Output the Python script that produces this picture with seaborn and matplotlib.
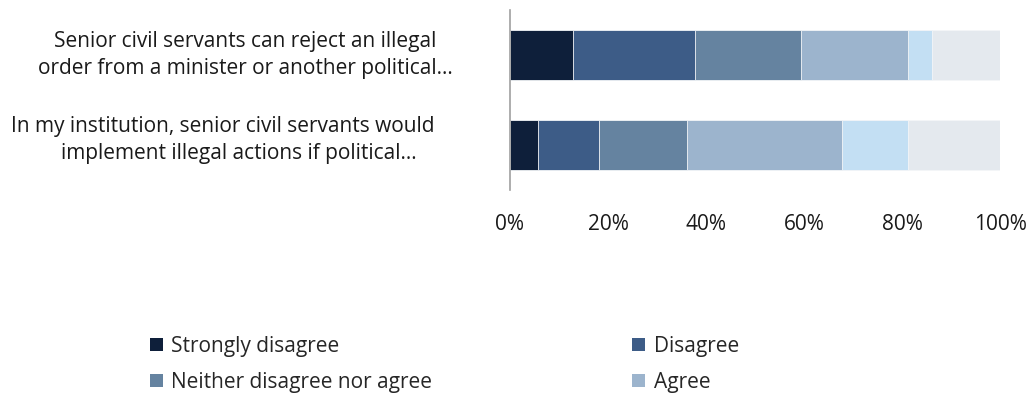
import matplotlib
matplotlib.use("Agg")
import matplotlib.pyplot as plt
from matplotlib.patches import Patch
import numpy as np
import pandas as pd
import seaborn as sns

# Survey statements (two-line labels) and response shares in percent
statements = [
    "Senior civil servants can reject an illegal\norder from a minister or another political…",
    "In my institution, senior civil servants would      \nimplement illegal actions if political…",
]
responses = ["Strongly disagree", "Disagree", "Neither disagree nor agree",
             "Agree", "Strongly agree", "Don't know"]
strongly_disagree = [12.8, 5.8]
disagree = [24.9, 12.3]
neither = [21.6, 18.1]
agree = [21.9, 31.6]
strongly_agree = [4.9, 13.5]
dont_know = [13.9, 18.7]

colors = ["#0e1f3a", "#3d5c87", "#6583a0", "#9cb4cd", "#c3dff3", "#e4e9ee"]

sns.set_style("white")
plt.rcParams["font.family"] = ["Open Sans", "DejaVu Sans"]

FS = 15

shares = np.array([strongly_disagree, disagree, neither, agree,
                   strongly_agree, dont_know])
cum = np.cumsum(shares, axis=0)

rows = []
for r, resp in enumerate(responses):
    for s, stmt in enumerate(statements):
        rows.append({"statement": stmt, "response": resp, "cum": cum[r, s]})
df = pd.DataFrame(rows)

fig = plt.figure(figsize=(10.28, 3.96), dpi=100)
ax = fig.add_axes([510 / 1028, 1 - 190 / 396, 490 / 1028, 180 / 396])

# stacked bars: draw the longest cumulative layer first
for r in range(len(responses) - 1, -1, -1):
    sub = df[df["response"] == responses[r]]
    sns.barplot(data=sub, x="cum", y="statement", color=colors[r],
                saturation=1, width=0.56, errorbar=None, orient="h",
                edgecolor="#f4f6f8", linewidth=0.6, ax=ax)

ax.set_xlim(0, 100)
ax.set_xticks(np.arange(0, 101, 20))
ax.set_xticklabels([f"{v}%" for v in range(0, 101, 20)], fontsize=FS,
                   color="#1a1a1a")
ax.tick_params(axis="x", length=0, pad=17)
ax.set_xlabel("")
ax.set_ylabel("")
ax.set_yticks([])

for side in ["top", "right", "bottom"]:
    ax.spines[side].set_visible(False)
ax.spines["left"].set_color("#a0a0a0")
ax.spines["left"].set_linewidth(1.2)

# centred two-line statement labels left of the axis
label_x = [-265 / 490 * 100, -271 / 490 * 100]
for i, stmt in enumerate(statements):
    ax.text(label_x[i], i - (0.06 if i == 1 else 0.0), stmt,
            ha="center", va="center", multialignment="center",
            fontsize=FS, color="#1a1a1a", linespacing=1.38,
            transform=ax.transData)

labels = ["Strongly disagree", "Neither disagree nor agree", "Disagree", "Agree"]
handles = [Patch(facecolor=colors[responses.index(n)], edgecolor="none")
           for n in labels]
fig.legend(handles, labels, loc="upper left",
           bbox_to_anchor=(150 / 1028, 1 - 336 / 396), ncol=2, frameon=False,
           fontsize=FS, handlelength=0.62, handleheight=0.62,
           handletextpad=0.4, columnspacing=9.6, labelspacing=0.7,
           borderpad=0, borderaxespad=0)

fig.savefig("out.png", dpi=100)
